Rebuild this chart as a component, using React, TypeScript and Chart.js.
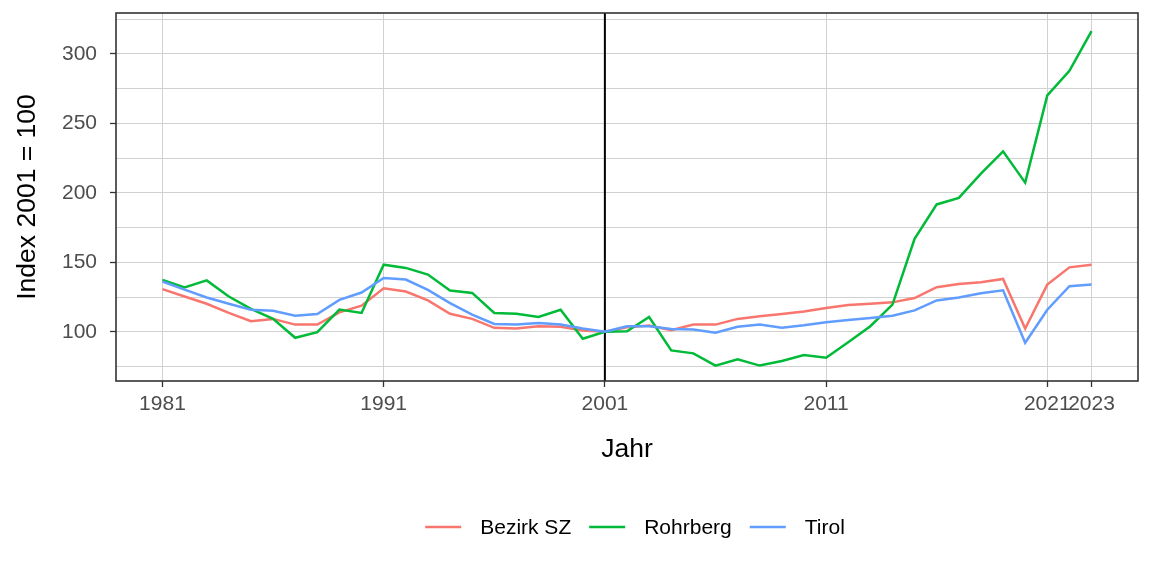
import React, { useEffect, useRef } from "react";
import { Chart, registerables } from "chart.js";

Chart.register(...registerables);

// ---- Data ----
const YEARS = [
  1981, 1982, 1983, 1984, 1985, 1986, 1987, 1988, 1989, 1990,
  1991, 1992, 1993, 1994, 1995, 1996, 1997, 1998, 1999, 2000,
  2001, 2002, 2003, 2004, 2005, 2006, 2007, 2008, 2009, 2010,
  2011, 2012, 2013, 2014, 2015, 2016, 2017, 2018, 2019, 2020,
  2021, 2022, 2023,
];

const BEZIRK_SZ = [
  130.7, 125.4, 120.2, 113.6, 107.6, 109.3, 105.2, 105.2, 114.0, 118.8,
  131.4, 129.0, 122.6, 113.0, 109.3, 102.9, 102.4, 104.0, 103.6, 101.0,
  100.0, 103.3, 104.5, 101.2, 105.2, 105.2, 109.3, 111.2, 112.8, 114.7,
  117.1, 119.3, 120.2, 121.2, 124.3, 132.1, 134.5, 135.7, 138.1, 102.4,
  134.0, 146.4, 148.3,
];

const ROHRBERG = [
  137.4, 132.0, 137.0, 125.4, 116.6, 109.3, 95.7, 99.7, 116.0, 113.6,
  148.3, 146.0, 141.2, 129.7, 128.0, 113.6, 113.0, 110.7, 115.9, 95.0,
  100.0, 100.4, 110.7, 86.6, 84.5, 75.7, 80.2, 75.7, 79.0, 83.3,
  81.4, 92.5, 104.0, 119.6, 166.9, 191.7, 196.4, 213.8, 229.9, 207.4,
  270.2, 287.9, 316.5,
];

const TIROL = [
  136.2, 130.4, 124.7, 120.2, 115.9, 115.2, 111.6, 112.8, 123.0, 128.3,
  138.8, 137.6, 130.2, 120.7, 112.4, 105.7, 105.2, 106.4, 105.2, 102.4,
  100.0, 104.0, 104.0, 102.1, 101.6, 99.3, 103.6, 105.2, 102.9, 104.7,
  106.9, 108.5, 110.0, 111.6, 115.4, 122.6, 124.7, 127.8, 129.9, 92.1,
  115.9, 132.8, 134.0,
];

const SERIES_NAMES = ["Bezirk SZ", "Rohrberg", "Tirol"];
const SERIES_VALUES = [BEZIRK_SZ, ROHRBERG, TIROL];
const SERIES_COLORS = ["#F8766D", "#00BA38", "#619CFF"];

const X_TICKS = [1981, 1991, 2001, 2011, 2021, 2023];
const Y_TICKS = [75, 100, 125, 150, 175, 200, 225, 250, 275, 300, 325];
const Y_LABELED = [100, 150, 200, 250, 300];
const REFERENCE_YEAR = 2001;

const X_TITLE = "Jahr";
const Y_TITLE = "Index 2001 = 100";

// ---- Styles ----
const FONT = '"Liberation Sans", Arial, sans-serif';
const TICK_SIZE = 21;
const TITLE_SIZE = 26.5;
const LEGEND_SIZE = 21;
const GRID_COLOR = "#D1D1D1";
const FRAME_COLOR = "#333333";

const refLinePlugin = {
  id: "refLine",
  beforeDatasetsDraw(chart: any) {
    const { ctx, chartArea, scales } = chart;
    const x = scales.x.getPixelForValue(REFERENCE_YEAR);
    ctx.save();
    ctx.strokeStyle = "#000000";
    ctx.lineWidth = 2;
    ctx.beginPath();
    ctx.moveTo(x, chartArea.top);
    ctx.lineTo(x, chartArea.bottom);
    ctx.stroke();
    ctx.restore();
  },
};

const framePlugin = {
  id: "frame",
  afterDatasetsDraw(chart: any) {
    const { ctx, chartArea } = chart;
    ctx.save();
    ctx.strokeStyle = FRAME_COLOR;
    ctx.lineWidth = 1.6;
    ctx.strokeRect(
      chartArea.left,
      chartArea.top,
      chartArea.right - chartArea.left,
      chartArea.bottom - chartArea.top
    );
    ctx.restore();
  },
};

const legendPlugin = {
  id: "ggLegend",
  afterDraw(chart: any) {
    const { ctx, chartArea } = chart;
    ctx.save();
    ctx.font = `${LEGEND_SIZE}px ${FONT}`;
    const keyW = 36;
    const keyGap = 19;
    const itemGap = 18;
    const items = chart.data.datasets.map((ds: any) => ({
      label: ds.label as string,
      color: ds.borderColor as string,
      w: ctx.measureText(ds.label).width,
    }));
    const total =
      items.reduce((s: number, it: any) => s + keyW + keyGap + it.w, 0) +
      itemGap * (items.length - 1);
    const cx = (chartArea.left + chartArea.right) / 2 + 8;
    let x = cx - total / 2;
    const y = 527;
    ctx.textBaseline = "middle";
    ctx.textAlign = "left";
    for (const it of items) {
      ctx.strokeStyle = it.color;
      ctx.lineWidth = 2.6;
      ctx.beginPath();
      ctx.moveTo(x, y);
      ctx.lineTo(x + keyW, y);
      ctx.stroke();
      ctx.fillStyle = "#000000";
      ctx.fillText(it.label, x + keyW + keyGap, y + 1);
      x += keyW + keyGap + it.w + itemGap;
    }
    ctx.restore();
  },
};

export default function App() {
  const canvasRef = useRef<HTMLCanvasElement | null>(null);

  useEffect(() => {
    if (!canvasRef.current) return;
    const datasets = SERIES_NAMES.map((name, i) => ({
      label: name,
      data: YEARS.map((yr, j) => ({ x: yr, y: SERIES_VALUES[i][j] })),
      borderColor: SERIES_COLORS[i],
      backgroundColor: SERIES_COLORS[i],
      borderWidth: 2.5,
      pointRadius: 0,
      pointHoverRadius: 0,
      tension: 0,
      fill: false,
      order: SERIES_NAMES.length - i,
    }));

    const chart = new Chart(canvasRef.current, {
      type: "line",
      data: { datasets },
      options: {
        animation: false,
        responsive: false,
        devicePixelRatio: 1,
        layout: { padding: { left: 0, right: 14, top: 13, bottom: 0 } },
        plugins: {
          legend: { display: false },
          tooltip: { enabled: false },
        },
        scales: {
          x: {
            type: "linear",
            min: 1978.9,
            max: 2025.1,
            afterBuildTicks: (scale: any) => {
              scale.ticks = X_TICKS.map((v) => ({ value: v }));
            },
            afterFit: (scale: any) => {
              scale.height = 195;
              scale.paddingLeft = 0;
              scale.paddingRight = 0;
            },
            ticks: {
              autoSkip: false,
              maxRotation: 0,
              minRotation: 0,
              padding: 5,
              color: "#4D4D4D",
              font: { family: FONT, size: TICK_SIZE },
              callback: (v: any) => String(v),
            },
            grid: {
              color: GRID_COLOR,
              lineWidth: 1,
              tickLength: 6,
              tickColor: FRAME_COLOR,
              tickWidth: 1.3,
            },
            border: { display: false },
            title: {
              display: true,
              text: X_TITLE,
              color: "#000000",
              font: { family: FONT, size: TITLE_SIZE },
              padding: { top: 0, bottom: 110 },
            },
          },
          y: {
            type: "linear",
            min: 64.6,
            max: 329.5,
            afterBuildTicks: (scale: any) => {
              scale.ticks = Y_TICKS.map((v) => ({ value: v }));
            },
            afterFit: (scale: any) => {
              scale.width = 116;
              scale.paddingTop = 0;
              scale.paddingBottom = 0;
            },
            ticks: {
              autoSkip: false,
              padding: 13,
              color: "#4D4D4D",
              font: { family: FONT, size: TICK_SIZE },
              callback: (v: any) => (Y_LABELED.includes(Number(v)) ? String(v) : ""),
            },
            grid: {
              color: GRID_COLOR,
              lineWidth: 1,
              tickLength: 6,
              tickColor: (ctx: any) =>
                ctx.tick && Y_LABELED.includes(ctx.tick.value) ? FRAME_COLOR : "rgba(0,0,0,0)",
              tickWidth: 1.3,
            },
            border: { display: false },
            title: {
              display: true,
              text: Y_TITLE,
              color: "#000000",
              font: { family: FONT, size: TITLE_SIZE },
              padding: { top: 12, bottom: 0 },
            },
          },
        },
      },
      plugins: [refLinePlugin, framePlugin, legendPlugin],
    } as any);

    return () => chart.destroy();
  }, []);

  return (
    <div style={{ position: "absolute", left: 0, top: 0, width: 1152, height: 576, background: "#fff" }}>
      <canvas ref={canvasRef} width={1152} height={576} style={{ display: "block" }} />
    </div>
  );
}
